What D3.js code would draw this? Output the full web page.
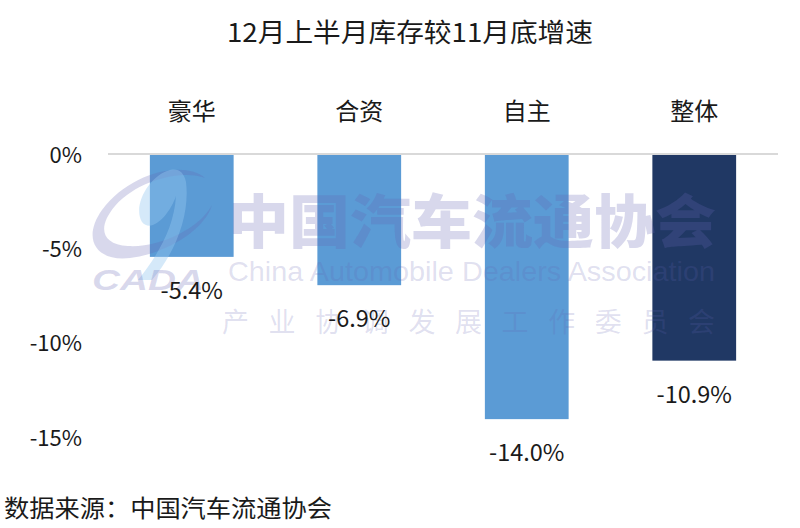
<!DOCTYPE html>
<html><head><meta charset="utf-8">
<script src="https://cdn.jsdelivr.net/npm/d3@7/dist/d3.min.js"></script>
<style>body{margin:0;background:#fff}svg{display:block}</style>
</head><body>
<svg id="c" width="800" height="528"></svg>
<script>
const title = "12月上半月库存较11月底增速";
const categories = ["豪华","合资","自主","整体"];
const values = [-5.4,-6.9,-14.0,-10.9];
const barColors = ["#5B9BD5","#5B9BD5","#5B9BD5","#203864"];
const tickValues = [0,-5,-10,-15];
const tickLabels = ["0%","-5%","-10%","-15%"];
const valueLabels = ["-5.4%","-6.9%","-14.0%","-10.9%"];
const source = "数据来源：中国汽车流通协会";
const wmMain = "中国汽车流通协会";
const wmEn = "China Automobile Dealers Association";
const wmSub = "产 业 协 调 发 展 工 作 委 员 会";

const svg = d3.select("#c");
const font = "'Noto Sans CJK SC','Noto Sans',sans-serif";
const x = d3.scaleBand().domain(categories).range([108,778]).paddingInner(0.5).paddingOuter(0.25);
const y = d3.scaleLinear().domain([0,-15]).range([155,438]);

// title
svg.append("text").attr("x",410).attr("y",42).attr("text-anchor","middle")
  .attr("font-family",font).attr("font-size",26).attr("fill","#1a1a1a")
  .attr("textLength",366).attr("lengthAdjust","spacingAndGlyphs").text(title);

// zero line
svg.append("line").attr("x1",108).attr("x2",778).attr("y1",y(0)-1).attr("y2",y(0)-1)
  .attr("stroke","#d9d9d9").attr("stroke-width",2);

// y axis
const yAxis = d3.axisLeft(y).tickValues(tickValues).tickSize(0).tickPadding(0)
  .tickFormat((d,i)=>tickLabels[i]);
const ga = svg.append("g").attr("transform","translate(82,0)").call(yAxis);
ga.select(".domain").remove();
ga.selectAll("text").attr("font-family",font).attr("font-size",22).attr("fill","#1a1a1a");

// bars
const data = categories.map((c,i)=>({c,v:values[i],col:barColors[i],lab:valueLabels[i]}));
svg.append("g").selectAll("rect").data(data).join("rect")
  .attr("x",d=>x(d.c)).attr("width",x.bandwidth())
  .attr("y",y(0)).attr("height",d=>y(d.v)-y(0)).attr("fill",d=>d.col);

// watermark (semi-transparent, over the bars)
const wm = svg.append("g").attr("class","watermark");
wm.append("path")
  .attr("d","M205,178 C185,160 130,172 102,210 C82,238 95,262 130,258 C165,254 205,230 212,205 C200,228 160,248 128,246 C100,244 98,226 115,206 C140,178 185,170 205,178 Z")
  .attr("fill","rgba(100,100,180,0.25)");
wm.append("path").attr("d","M170,170 C150,175 132,205 142,222 C152,234 170,214 176,196 C174,228 158,255 138,280 L152,280 C176,252 190,214 186,182 C184,172 178,168 170,170 Z")
  .attr("fill","rgba(150,200,240,0.4)");
wm.append("text").attr("x",92).attr("y",290)
  .attr("font-family","'Liberation Sans',sans-serif").attr("font-weight","bold").attr("font-style","italic")
  .attr("font-size",30).attr("fill","rgba(100,100,180,0.25)").attr("textLength",112)
  .attr("lengthAdjust","spacingAndGlyphs").text("CADA");
wm.append("text").attr("x",228).attr("y",243).attr("font-family",font).attr("font-weight",900)
  .attr("font-size",58).attr("fill","rgba(100,100,180,0.25)").attr("textLength",488)
  .attr("lengthAdjust","spacingAndGlyphs").text(wmMain);
wm.append("text").attr("x",228).attr("y",281).attr("font-family","'Liberation Sans',sans-serif")
  .attr("font-size",28).attr("fill","rgba(100,100,180,0.2)").attr("textLength",487)
  .attr("lengthAdjust","spacingAndGlyphs").text(wmEn);
wm.append("text").attr("x",222).attr("y",332).attr("font-family",font)
  .attr("font-size",27).attr("fill","rgba(100,100,180,0.2)").attr("textLength",493).text(wmSub);

// category labels
svg.append("g").selectAll("text").data(data).join("text")
  .attr("x",d=>x(d.c)+x.bandwidth()/2).attr("y",120).attr("text-anchor","middle")
  .attr("font-family",font).attr("font-size",24).attr("fill","#1a1a1a").text(d=>d.c);

// value labels
svg.append("g").selectAll("text").data(data).join("text")
  .attr("x",d=>x(d.c)+x.bandwidth()/2).attr("y",d=>y(d.v)+42).attr("text-anchor","middle")
  .attr("font-family",font).attr("font-size",23.5).attr("fill","#1a1a1a").text(d=>d.lab);

// source
svg.append("text").attr("x",4).attr("y",517).attr("font-family",font).attr("font-size",24)
  .attr("fill","#1a1a1a").attr("textLength",328).attr("lengthAdjust","spacingAndGlyphs").text(source);
</script>
</body></html>
